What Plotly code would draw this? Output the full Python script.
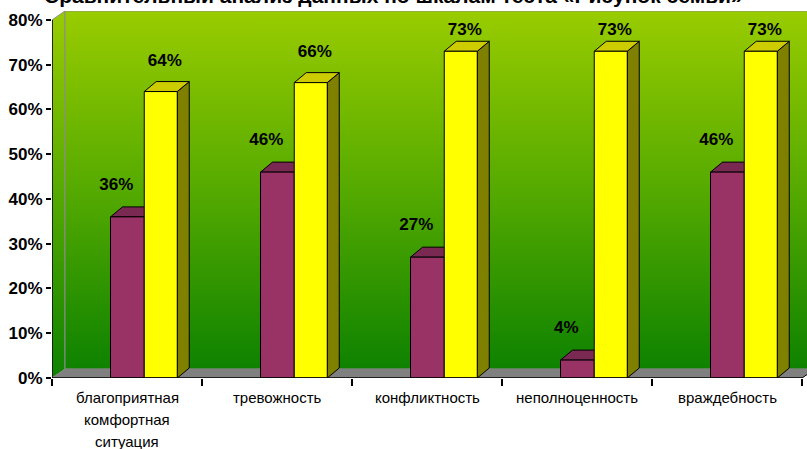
import plotly.graph_objects as go

# ---------------- data ----------------
categories = ["благоприятная<br>комфортная<br>ситуация", "тревожность", "конфликтность",
              "неполноценность", "враждебность"]
series_a = [36, 46, 27, 4, 46]     # purple series
series_b = [64, 66, 73, 73, 73]    # yellow series
tick_vals = [0, 10, 20, 30, 40, 50, 60, 70, 80]
tick_text = [f"{v}%" for v in tick_vals]
title_text = "Сравнительный анализ данных по шкалам теста «Рисунок семьи»"

# ---------------- geometry (pixel based) ----------------
W, H = 807, 449
ML, MR, MT, MB = 52, 0, 11, 71
PH = H - MT - MB
PX_X = 150.0                      # pixels per category
PX_Y = PH / 82.0                  # pixels per percent
XMIN = -0.5
XMAX = XMIN + (W - ML - MR) / PX_X
YMAX = 82.0

dxw, dyw = 13 / PX_X, 9 / PX_Y      # wall depth
dxb, dyb = 12 / PX_X, 10 / PX_Y     # bar depth

ser_cfg = [
    dict(vals=series_a, left=-0.11, width=0.225, front="#993366", top="#7A2952", side="#5C1F3D",
         lab_dx=-11 / PX_X, lab_dy=7.0, lab_max=100),
    dict(vals=series_b, left=0.115, width=0.22, front="#FFFF00", top="#CCCC00", side="#808000",
         lab_dx=4 / PX_X, lab_dy=6.7, lab_max=77.5),
]

fig = go.Figure()

GRAD = dict(type="vertical", colorscale=[[0, "#0E8200"], [0.5, "#55AA00"], [1, "#99CC00"]])

# left wall
fig.add_trace(go.Scatter(
    x=[XMIN, XMIN + dxw, XMIN + dxw, XMIN, XMIN],
    y=[0, dyw, 80 + dyw, 80, 0],
    fill="toself", fillgradient=GRAD, mode="lines",
    line=dict(color="#8C8C8C", width=1), hoverinfo="skip", showlegend=False))
# back wall
fig.add_trace(go.Scatter(
    x=[XMIN + dxw, XMAX + 0.05, XMAX + 0.05, XMIN + dxw, XMIN + dxw],
    y=[dyw, dyw, 80 + dyw, 80 + dyw, dyw],
    fill="toself", fillgradient=GRAD, mode="lines",
    line=dict(color="#8C8C8C", width=1), hoverinfo="skip", showlegend=False))
# floor
fig.add_trace(go.Scatter(
    x=[XMIN, XMIN + dxw, 4.5 + dxw, 4.5, XMIN],
    y=[0, dyw, dyw, 0, 0],
    fill="toself", fillcolor="#808080", mode="lines",
    line=dict(color="#808080", width=0.5), hoverinfo="skip", showlegend=False))


def faces(cfg):
    tops_x, tops_y, sides_x, sides_y, fr_x, fr_y = [], [], [], [], [], []
    for i, v in enumerate(cfg["vals"]):
        l = i + cfg["left"]
        r = l + cfg["width"]
        fr_x += [l, r, r, l, l, None]
        fr_y += [0, 0, v, v, 0, None]
        tops_x += [l, r, r + dxb, l + dxb, l, None]
        tops_y += [v, v, v + dyb, v + dyb, v, None]
        sides_x += [r, r + dxb, r + dxb, r, r, None]
        sides_y += [0, dyb, v + dyb, v, 0, None]
    return (tops_x, tops_y), (sides_x, sides_y), (fr_x, fr_y)


for cfg in ser_cfg:
    (tx, ty), (sx, sy), (fx, fy) = faces(cfg)
    for (xx, yy, col) in [(sx, sy, cfg["side"]), (tx, ty, cfg["top"]), (fx, fy, cfg["front"])]:
        fig.add_trace(go.Scatter(x=xx, y=yy, fill="toself", fillcolor=col, mode="lines",
                                 line=dict(color="black", width=1), hoverinfo="skip",
                                 showlegend=False))

# data labels
for cfg in ser_cfg:
    xs = [i + cfg["left"] + cfg["width"] / 2 + cfg["lab_dx"] for i in range(len(cfg["vals"]))]
    ys = [min(v + cfg["lab_dy"], cfg["lab_max"]) for v in cfg["vals"]]
    fig.add_trace(go.Scatter(x=xs, y=ys, mode="text", text=[f"{v}%" for v in cfg["vals"]],
                             textposition="middle center",
                             textfont=dict(family="Arial, Liberation Sans", size=17, color="black"),
                             texttemplate="<b>%{text}</b>", hoverinfo="skip", showlegend=False,
                             cliponaxis=False))

shapes = [
    dict(type="line", xref="x", yref="y", x0=XMIN, x1=XMIN, y0=0, y1=80,
         line=dict(color="black", width=1.5), layer="above"),
    dict(type="line", xref="x", yref="y", x0=XMIN, x1=4.5, y0=0, y1=0,
         line=dict(color="black", width=1.5), layer="above"),
    dict(type="line", xref="x", yref="y", x0=4.5, x1=4.5 + dxw, y0=0, y1=dyw,
         line=dict(color="black", width=1), layer="above"),
]

annotations = []
LINE_PX = 22
for i, cat in enumerate(categories):
    for k, part in enumerate(cat.split("<br>")):
        ypx = 20 + k * LINE_PX
        annotations.append(dict(x=i, y=-ypx / PH, xref="x", yref="paper", text=part,
                                showarrow=False, xanchor="center", yanchor="middle",
                                font=dict(family="Arial, Liberation Sans", size=15, color="black")))
annotations.append(dict(x=(393 - ML) / (W - ML - MR), y=(H - MB + 4) / PH,
                        xref="paper", yref="paper", text=f"<b>{title_text}</b>",
                        showarrow=False, xanchor="center", yanchor="middle",
                        font=dict(family="Arial, Liberation Sans", size=21, color="black")))

fig.update_layout(
    width=W, height=H,
    margin=dict(l=ML, r=MR, t=MT, b=MB, pad=0),
    paper_bgcolor="white", plot_bgcolor="white",
    showlegend=False,
    shapes=shapes, annotations=annotations,
    xaxis=dict(range=[XMIN, XMAX], tickvals=[-0.5, 0.5, 1.5, 2.5, 3.5, 4.5], ticktext=[""] * 6,
               ticks="outside", ticklen=7, tickcolor="black", tickwidth=1.5,
               showgrid=False, zeroline=False, showline=False, fixedrange=True),
    yaxis=dict(range=[0, YMAX], tickvals=tick_vals, ticktext=[f"<b>{t}</b>" for t in tick_text],
               ticks="outside", ticklen=5, tickcolor="black", tickwidth=1.5,
               tickfont=dict(family="Arial, Liberation Sans", size=17, color="black"),
               showgrid=False, zeroline=False, showline=False, fixedrange=True),
)

fig.write_html("out.html")
